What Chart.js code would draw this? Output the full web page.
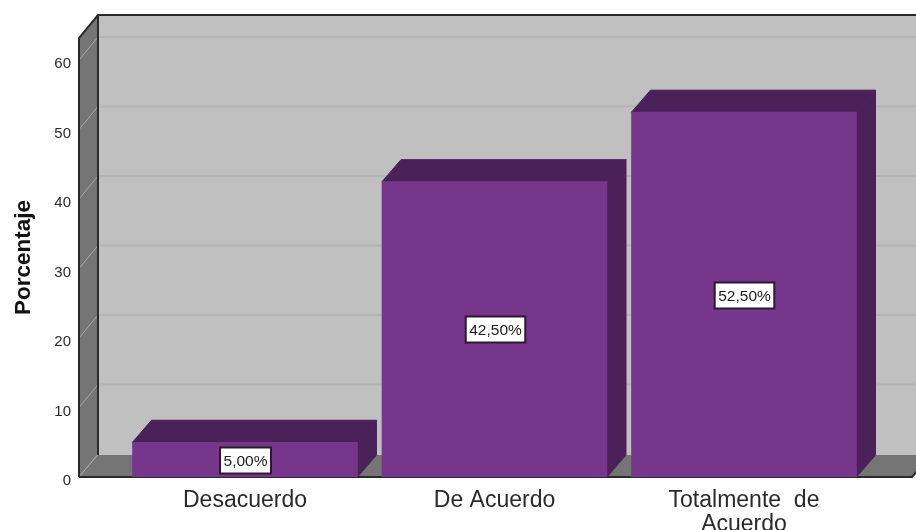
<!DOCTYPE html>
<html><head><meta charset="utf-8">
<style>html,body{margin:0;padding:0;background:#fff;overflow:hidden}canvas{display:block}</style>
<script src="https://cdn.jsdelivr.net/npm/chart.js@4"></script>
</head><body>
<canvas id="c" width="916" height="530" style="width:916px;height:530px"></canvas>
<script>
const categories = [["Desacuerdo"], ["De Acuerdo"], ["Totalmente  de", "Acuerdo"]];
const values = [5, 42.5, 52.5];
const valueLabels = ["5,00%", "42,50%", "52,50%"];
const yTickValues = [0, 10, 20, 30, 40, 50, 60];
const yTitle = "Porcentaje";
const DX = 19, DY = 22;
const FONT = '"Liberation Sans", Arial, sans-serif';

function poly(ctx, pts, fill, stroke, lw) {
  ctx.beginPath();
  pts.forEach((p, i) => i ? ctx.lineTo(p[0], p[1]) : ctx.moveTo(p[0], p[1]));
  ctx.closePath();
  if (fill) { ctx.fillStyle = fill; ctx.fill(); }
  if (stroke) { ctx.strokeStyle = stroke; ctx.lineWidth = lw || 1; ctx.stroke(); }
}
const box3d = {
  id: 'box3d',
  beforeDraw(chart) {
    const { ctx, chartArea: a, scales: { y } } = chart;
    const L = a.left, R = a.right, T = a.top, B = a.bottom;
    y.getLabelItems().forEach(it => { it.options.translation[1] += 4; });
    ctx.save();
    poly(ctx, [[L+DX, T-DY-1], [R+DX, T-DY-1], [R+DX, B-DY], [L+DX, B-DY]], '#c0c0c0');
    poly(ctx, [[L, T], [L+DX, T-DY-1], [L+DX, B-DY], [L, B]], '#757575');
    poly(ctx, [[L, B], [L+DX, B-DY], [R+DX, B-DY], [R, B]], '#757575');
    yTickValues.forEach(v => {
      const py = y.getPixelForValue(v);
      ctx.lineWidth = 2;
      if (v > 0) {
        ctx.strokeStyle = '#b4b4b4';
        ctx.beginPath(); ctx.moveTo(L+DX, py-DY-1); ctx.lineTo(R+DX, py-DY-1); ctx.stroke();
      }
      ctx.lineWidth = 1;
      ctx.strokeStyle = '#a9a9a9';
      ctx.beginPath(); ctx.moveTo(L, py); ctx.lineTo(L+DX, py-DY-1); ctx.stroke();
    });
    ctx.strokeStyle = '#2a2a2a'; ctx.lineWidth = 2;
    ctx.beginPath();
    ctx.moveTo(L, B); ctx.lineTo(L, T); ctx.lineTo(L+DX, T-DY-1); ctx.lineTo(R+DX, T-DY-1);
    ctx.moveTo(L+DX, T-DY-1); ctx.lineTo(L+DX, B-DY);
    ctx.moveTo(L, B); ctx.lineTo(R, B); ctx.lineTo(R+DX, B-DY);
    ctx.stroke();
    ctx.restore();
  },
  beforeDatasetsDraw(chart) {
    const { ctx, chartArea: a } = chart;
    chart.getDatasetMeta(0).data.forEach(b => {
      const l = b.x - b.width / 2, r = b.x + b.width / 2, t = b.y, B = a.bottom;
      poly(ctx, [[l, t], [l+DX, t-DY], [r+DX, t-DY], [r, t]], '#4a2159', '#4a2159', 1);
      poly(ctx, [[r, t], [r+DX, t-DY], [r+DX, B-DY], [r, B]], '#4a2159', '#4a2159', 1);
    });
  },
  afterDatasetsDraw(chart) {
    const { ctx, chartArea: a } = chart;
    ctx.save();
    ctx.font = '15.5px ' + FONT;
    ctx.textAlign = 'center'; ctx.textBaseline = 'middle';
    chart.getDatasetMeta(0).data.forEach((b, i) => {
      const cy = Math.round((b.y + a.bottom) / 2) + 0.5, cx = Math.round(b.x) + 0.5;
      const w = ctx.measureText(valueLabels[i]).width + 7, h = 26;
      ctx.fillStyle = '#fff'; ctx.strokeStyle = '#2a1a30'; ctx.lineWidth = 2;
      ctx.fillRect(cx - w/2, cy - h/2, w, h); ctx.strokeRect(cx - w/2, cy - h/2, w, h);
      ctx.fillStyle = '#1c1c1c';
      ctx.fillText(valueLabels[i], cx, cy + 1);
    });
    ctx.restore();
  }
};
new Chart(document.getElementById('c'), {
  type: 'bar',
  data: { labels: categories.map((_, i) => i),
    datasets: [{ data: values.map((v, i) => ({ x: i, y: v })), backgroundColor: '#76368c', borderWidth: 0, barThickness: 225 }] },
  plugins: [box3d],
  options: {
    responsive: false, animation: false, events: [],
    layout: { padding: { top: 38, right: 4, left: 0, bottom: 0 } },
    plugins: { legend: { display: false }, tooltip: { enabled: false }, title: { display: false } },
    scales: {
      x: {
        type: 'linear', offset: false, min: -0.6653, max: 2.6733,
        afterFit(s) { s.height = 53; },
        afterBuildTicks(s) { s.ticks = categories.map((_, i) => ({ value: i })); },
        grid: { display: false, drawTicks: false }, border: { display: false },
        ticks: { autoSkip: false, maxRotation: 0, minRotation: 0, padding: 12, color: '#2a2a2a',
          font: { family: FONT, size: 23, lineHeight: 1.03 },
          callback: v => categories[v] }
      },
      y: {
        min: 0, max: 63.17,
        afterFit(s) { s.width = 79; },
        afterBuildTicks(s) { s.ticks = yTickValues.map(v => ({ value: v })); },
        grid: { display: false }, border: { display: false },
        ticks: { padding: 0, color: '#2a2a2a', font: { family: FONT, size: 15 } },
        title: { display: true, text: yTitle, color: '#111', padding: { top: 10, bottom: 0 },
          font: { family: FONT, size: 22.5, weight: 'bold' } }
      }
    }
  }
});
</script>
</body></html>
